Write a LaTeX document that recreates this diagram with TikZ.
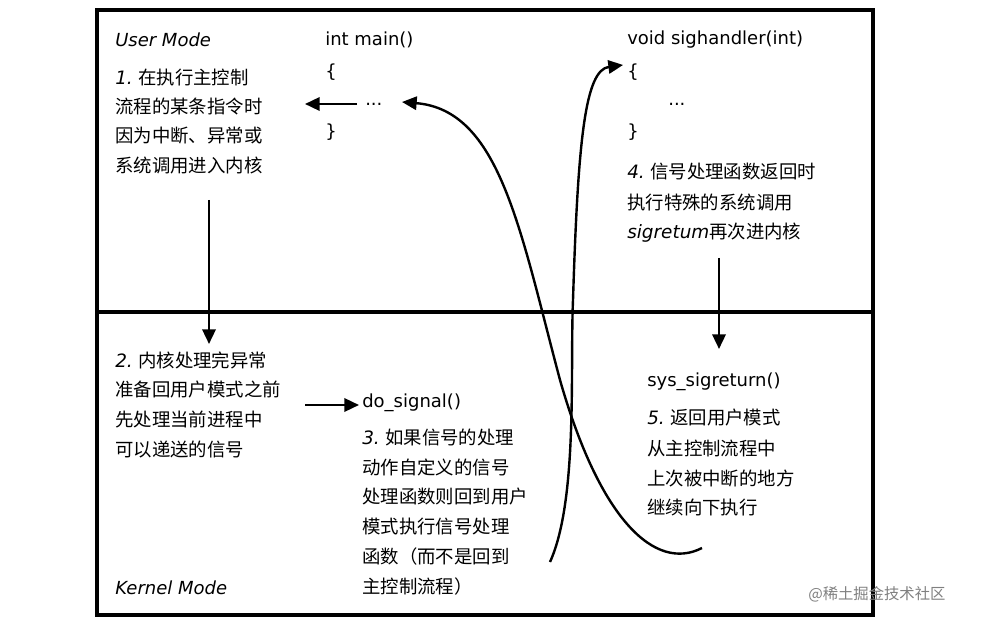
\documentclass[tikz,border=0pt]{standalone}
\usepackage{fontspec}
\setmainfont{DejaVu Sans}
\newfontfamily\cjk{Noto Sans CJK SC}
\newcommand{\num}[1]{{\fontspec{DejaVu Sans}\itshape #1}}
\usetikzlibrary{arrows.meta}
\begin{document}
\begin{tikzpicture}[x=0.75pt,y=-0.75pt,
  t/.style={anchor=west,inner sep=0pt,font=\fontsize{13.8}{15}\selectfont\cjk},
  c/.style={anchor=west,inner sep=0pt,font=\fontsize{13.5}{15}\selectfont},
  ar/.style={line width=1.8pt,-{Triangle[length=11pt,width=10pt]}},
  cv/.style={line width=1.8pt}]
\useasboundingbox (0,0) rectangle (984,623);
\fill[white] (0,0) rectangle (984,623);
\draw[line width=2.4pt] (97,10) rectangle (873,615);
\draw[line width=2.4pt] (97,312) -- (873,312);
% user mode
\node[c] at (115,40) {\textit{User Mode}};
\node[c] at (325,40) {int main()};
\node[c] at (325,72) {\{};
\node[c] (dots1) at (365,104) {...};
\node[c] at (325,132) {\}};
\node[t] at (115,78) {\num{1.} 在执行主控制};
\node[t] at (115,107) {流程的某条指令时};
\node[t] at (115,136) {因为中断、异常或};
\node[t] at (115,166) {系统调用进入内核};
\node[c] at (627,40) {void sighandler(int)};
\node[c] (ob) at (627,72) {\{};
\node[c] at (668,104) {...};
\node[c] at (627,132) {\}};
\node[t] at (627,172) {\num{4.} 信号处理函数返回时};
\node[t] at (627,203) {执行特殊的系统调用};
\node[t] at (627,233) {\num{sigretum}再次进内核};
% kernel mode
\node[t] at (115,360) {\num{2.} 内核处理完异常};
\node[t] at (115,390) {准备回用户模式之前};
\node[t] at (115,420) {先处理当前进程中};
\node[t] at (115,450) {可以递送的信号};
\node[c] (dos) at (362,403) {do\_signal()};
\node[t] at (362,437) {\num{3.} 如果信号的处理};
\node[t] at (362,467) {动作自定义的信号};
\node[t] at (362,497) {处理函数则回到用户};
\node[t] at (362,527) {模式执行信号处理};
\node[t] at (362,557) {函数（而不是回到};
\node[t] at (362,587) {主控制流程）};
\node[c] at (115,588) {\textit{Kernel Mode}};
\node[c] (sys) at (647,382) {sys\_sigreturn()};
\node[t] at (647,418) {\num{5.} 返回用户模式};
\node[t] at (647,448) {从主控制流程中};
\node[t] at (647,478) {上次被中断的地方};
\node[t] at (647,508) {继续向下执行};
\node[anchor=west,inner sep=0pt,text=gray,font=\fontsize{11.5}{13}\selectfont\cjk] at (808,594) {@稀土掘金技术社区};
% coordinates
\coordinate (a1s) at (209,200); \coordinate (a1e) at (209,344);
\coordinate (a4s) at (719,258); \coordinate (a4e) at (719,349);
\coordinate (a2s) at (305,405); \coordinate (a2e) at (359,405);
\coordinate (d1s) at (357,104); \coordinate (d1e) at (305,104);
\coordinate (c1s) at (550,562); \coordinate (c1e) at (623,65);
\coordinate (c2s) at (702,548); \coordinate (c2e) at (402,102);
\draw[ar] (a1s) -- (a1e);
\draw[ar] (a4s) -- (a4e);
\draw[ar] (a2s) -- (a2e);
\draw[ar] (d1s) -- (d1e);
\draw[cv,-{Triangle[length=11pt,width=10pt]}] (c1s) .. controls (578,500) and (570,370) .. (573,300) .. controls (578,140) and (585,70) .. (c1e);
\draw[cv,-{Triangle[length=11pt,width=10pt]}] (c2s) .. controls (655,572) and (600,520) .. (560,380) .. controls (520,230) and (500,110) .. (c2e);
\end{tikzpicture}
\end{document}
